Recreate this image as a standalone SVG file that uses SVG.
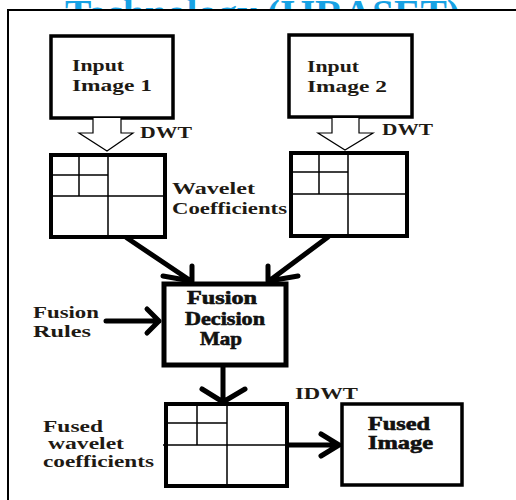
<svg xmlns="http://www.w3.org/2000/svg" width="516" height="500" viewBox="0 0 516 500">
<style>
  .t { font-family: "Liberation Serif", "Times New Roman", serif; font-weight: bold; font-size: 17px; fill: #1e1a14; }
  .h { font-family: "Liberation Serif", "Times New Roman", serif; font-weight: bold; font-size: 18px; fill: #111; stroke: #111; stroke-width: 0.6px; }
  .box { fill: #fff; stroke: #000; }
  .grid { stroke: #000; stroke-width: 1.5; fill: none; }
  .conn { stroke: #000; stroke-width: 5; fill: none; stroke-linecap: round; stroke-linejoin: round; }
  .hollow { fill: #fff; stroke: #000; stroke-width: 1.2; }
</style>
<rect width="516" height="500" fill="#fff"/>
<text x="65" y="27" font-family="Liberation Serif, serif" font-weight="bold" font-size="39" fill="#18a2e4" textLength="395" lengthAdjust="spacingAndGlyphs">Technology (IJRASET)</text>
<rect x="8" y="10" width="520" height="500" fill="#fff" stroke="#000" stroke-width="2"/>

<g id="input1">
  <rect class="box" x="51" y="36" width="122" height="82" stroke-width="3.5"/>
  <text class="t" x="72" y="71" textLength="52" lengthAdjust="spacingAndGlyphs">Input</text>
  <text class="t" x="72" y="91" textLength="80" lengthAdjust="spacingAndGlyphs">Image 1</text>
</g>
<g id="input2">
  <rect class="box" x="289" y="35" width="123" height="82" stroke-width="3.5"/>
  <text class="t" x="307" y="72" textLength="52" lengthAdjust="spacingAndGlyphs">Input</text>
  <text class="t" x="307" y="92" textLength="80" lengthAdjust="spacingAndGlyphs">Image 2</text>
</g>

<g id="wavelet1">
  <rect class="box" x="51" y="155" width="114" height="82" stroke-width="4"/>
  <path class="grid" d="M108 155V237M51 196H165M79 155V196M51 175H108"/>
  <text class="t" x="172" y="194" textLength="83" lengthAdjust="spacingAndGlyphs">Wavelet</text>
  <text class="t" x="172" y="214" textLength="115" lengthAdjust="spacingAndGlyphs">Coefficients</text>
</g>
<g id="wavelet2">
  <rect class="box" x="291" y="153" width="116" height="83" stroke-width="4"/>
  <path class="grid" d="M348 153V236M291 194H407M319 153V194M291 172H348"/>
</g>

<g id="fusion">
  <rect class="box" x="164" y="284" width="122" height="81" stroke-width="5"/>
  <text class="h" x="187" y="304" textLength="70" lengthAdjust="spacingAndGlyphs">Fusion</text>
  <text class="h" x="185" y="325" textLength="80" lengthAdjust="spacingAndGlyphs">Decision</text>
  <text class="h" x="200" y="345" textLength="42" lengthAdjust="spacingAndGlyphs">Map</text>
</g>
<g id="rules">
  <text class="t" x="33" y="318" textLength="66" lengthAdjust="spacingAndGlyphs">Fusion</text>
  <text class="t" x="33" y="337" textLength="58" lengthAdjust="spacingAndGlyphs">Rules</text>
</g>

<g id="fusedwavelet">
  <rect class="box" x="166" y="404" width="121" height="82" stroke-width="4"/>
  <path class="grid" d="M227 404V486M163 445H287M197 404V445M166 423H227"/>
  <text class="t" x="43" y="432" textLength="60" lengthAdjust="spacingAndGlyphs">Fused</text>
  <text class="t" x="48" y="449" textLength="76" lengthAdjust="spacingAndGlyphs">wavelet</text>
  <text class="t" x="43" y="467" textLength="111" lengthAdjust="spacingAndGlyphs">coefficients</text>
</g>

<g id="fusedimage">
  <rect class="box" x="342" y="404" width="120" height="81" stroke-width="3.5"/>
  <text class="h" x="368" y="430" textLength="62" lengthAdjust="spacingAndGlyphs">Fused</text>
  <text class="h" x="368" y="449" textLength="65" lengthAdjust="spacingAndGlyphs">Image</text>
</g>

<g id="connectors">
  <path class="hollow" d="M93 118V133H79L107 151L133 133H121V118"/>
  <text class="t" x="140" y="138" textLength="52" lengthAdjust="spacingAndGlyphs">DWT</text>
  <path class="hollow" d="M332 118V133H318L345 150L373 133H359V118"/>
  <text class="t" x="382" y="135" textLength="51" lengthAdjust="spacingAndGlyphs">DWT</text>

  <path class="conn" d="M127 238L191 281M192 266V281M163 276L191 281"/>
  <path class="conn" d="M328 237L269 281M268 266V281M298 276L269 281"/>
  <path class="conn" d="M106 321H159M147 309L159 321L147 333"/>
  <path class="conn" d="M223 366V401M202 389L223 402L245 389"/>
  <path class="conn" d="M288 445H339M321 434L339 445L321 456"/>
  <text class="t" x="295" y="399" textLength="63" lengthAdjust="spacingAndGlyphs">IDWT</text>
</g>
</svg>
